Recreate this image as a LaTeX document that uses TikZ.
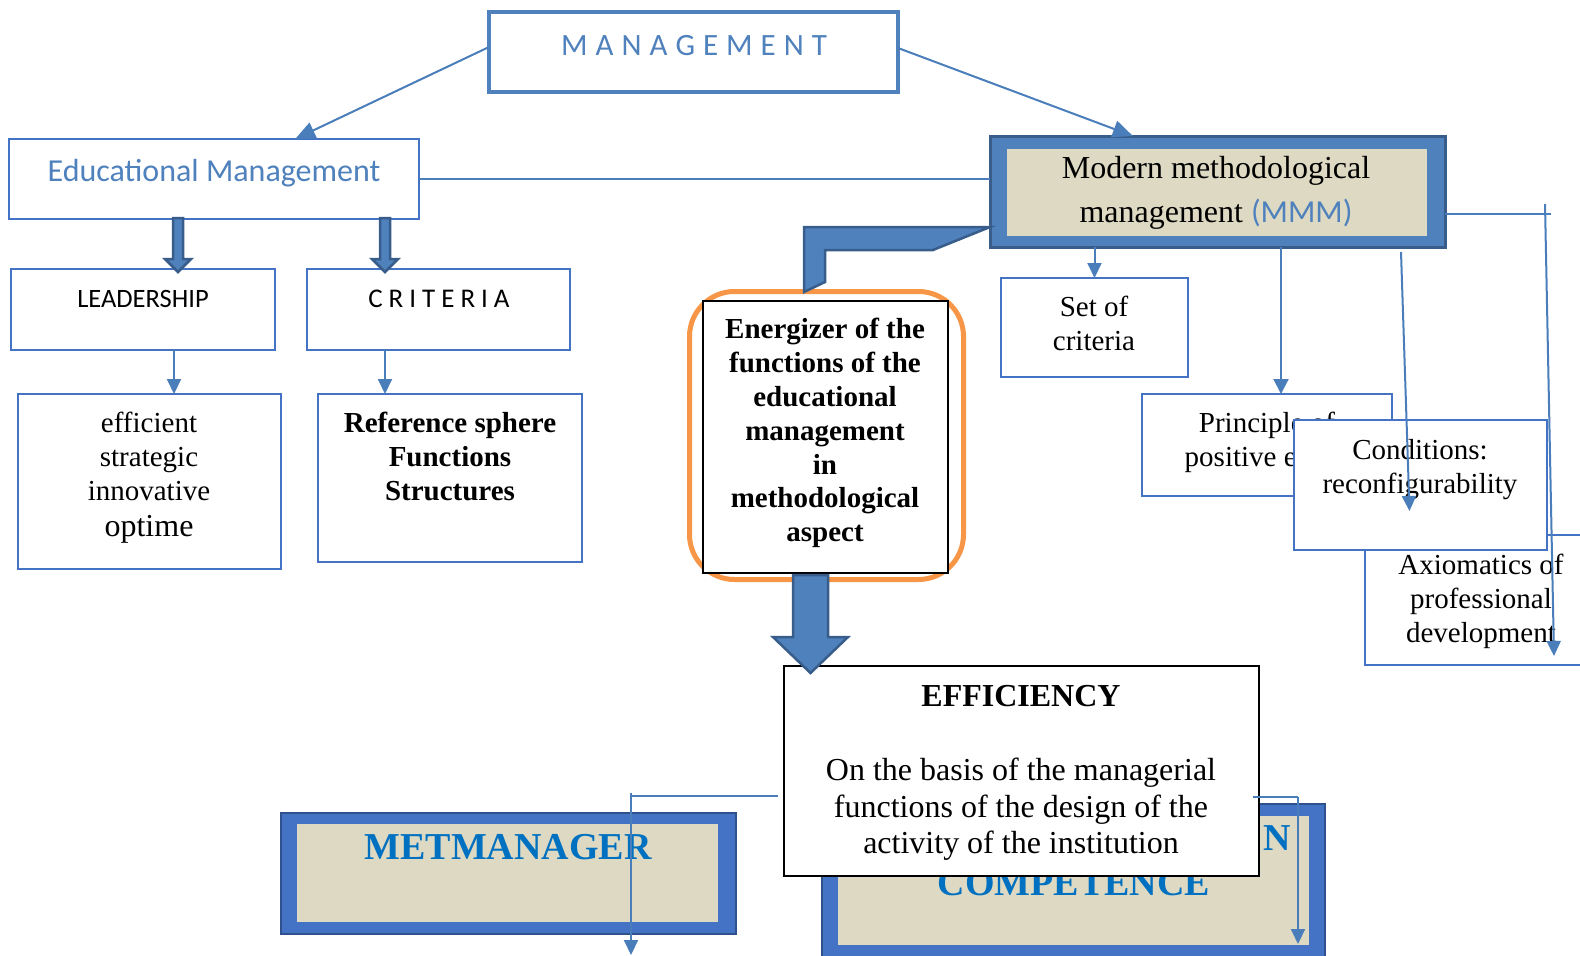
\documentclass[tikz,border=0pt]{standalone}
\usepackage{fontspec}
\setmainfont{Liberation Serif}
\newfontfamily\calib{Carlito}
\usetikzlibrary{arrows.meta,calc}
\definecolor{bx}{HTML}{4472C4}
\definecolor{ln}{HTML}{4A7EBB}
\definecolor{acc}{HTML}{4F81BD}
\definecolor{dk}{HTML}{385D8A}
\definecolor{dkb}{HTML}{2F528F}
\definecolor{beige}{HTML}{DDD9C3}
\definecolor{org}{HTML}{F79646}
\definecolor{tb}{HTML}{0070C0}
% block arrow pointing down: #1 start, #2 tip, #3 shaft half width, #4 head half width, #5 head length
\newcommand\blkdown[5]{\filldraw[blk] ($(#1)+(-#3,0)$) -- ($(#1)+(#3,0)$) -- ($(#2)+(#3,-#5)$) -- ($(#2)+(#4,-#5)$) -- (#2) -- ($(#2)+(-#4,-#5)$) -- ($(#2)+(-#3,-#5)$) -- cycle;}
\begin{document}
\begin{tikzpicture}[x=1pt,y=-1pt,
  box/.style={draw=bx,line width=2.5pt,fill=white,inner sep=0pt,outer sep=0pt},
  conn/.style={draw=ln,line width=2pt},
  arr/.style={conn,-{Triangle[width=14pt,length=15pt]}},
  bigarr/.style={conn,-{Triangle[width=17pt,length=20pt]}},
  blk/.style={fill=acc,draw=dk,line width=2.5pt,line join=miter},
  txt/.style={inner sep=0pt,align=center,font=\fontsize{29}{34}\selectfont},
  plate/.style={inner sep=0pt,outer sep=0pt}]
\useasboundingbox (0,0) rectangle (1580,956);
\clip (0,0) rectangle (1580,956);

% ---------- boxes ----------
\node[box,draw=acc,line width=4pt,minimum width=409pt,minimum height=80pt] (mgmt) at (693.5,52) {};
\node[txt,text=acc,font=\calib\fontsize{31}{37}\selectfont] (mgmtt) at (694,46)
  {M\kern8pt A\kern8pt N\kern8pt A\kern8pt G\kern8pt E\kern8pt M\kern8pt E\kern8pt N\kern8pt T};

\node[box,minimum width=410pt,minimum height=80pt] (edu) at (214,179) {};
\node[txt,text=acc,font=\calib\fontsize{32}{38}\selectfont] (edut) at (214,173) {Educational Management};

\node[plate,draw=dk,fill=acc,line width=3pt,minimum width=455pt,minimum height=111pt] (mmm) at (1217.5,191.5) {};
\node[plate,fill=beige,minimum width=420pt,minimum height=87pt] (mmmin) at (1217,192.5) {};
\node[txt,font=\fontsize{32}{44}\selectfont] (mmmt) at (1216,193)
  {Modern methodological\\management {\calib\color{acc}(MMM)}};

\node[box,minimum width=264pt,minimum height=81pt] (lead) at (143,309.5) {};
\node[txt,font=\calib\fontsize{26.5}{32}\selectfont] (leadt) at (143,299) {LEADERSHIP};

\node[box,minimum width=263pt,minimum height=81pt] (crit) at (438.5,309.5) {};
\node[txt,font=\calib\fontsize{27}{32}\selectfont] (critt) at (439,299)
  {C\kern6pt R\kern6pt I\kern6pt T\kern6pt E\kern6pt R\kern6pt I\kern6pt A};

\node[box,minimum width=263pt,minimum height=175pt] (eff) at (149.5,481.5) {};
\node[txt] (efft) at (149,478) {efficient\\strategic\\innovative\\[2pt]{\fontsize{32}{34}\selectfont optime}};

\node[box,minimum width=264pt,minimum height=168pt] (ref) at (450,478) {};
\node[txt,font=\bfseries\fontsize{29}{34}\selectfont] (reft) at (450,456.5) {Reference sphere\\Functions\\Structures};

\node[plate,draw=org,line width=5pt,rounded corners=45pt,minimum width=274pt,minimum height=288pt] (energ) at (826.5,435.5) {};
\node[plate,draw=black,line width=1.5pt,fill=white,minimum width=245pt,minimum height=272pt] (energin) at (825.5,437) {};
\node[txt,font=\bfseries\fontsize{29}{33.9}\selectfont] (energt) at (825,433)
  {Energizer of the\\functions of the\\educational\\management\\in\\methodological\\aspect};

\node[box,minimum width=187pt,minimum height=99pt] (setc) at (1094.5,327.5) {};
\node[txt] (setct) at (1094,323.5) {Set of\\criteria};

\node[box,minimum width=250pt,minimum height=102pt] (princ) at (1267,445) {};
\node[txt] (princt) at (1267,442) {Principle of\\positive effect};

\node[box,minimum width=255pt,minimum height=130pt] (axio) at (1492.5,600) {};
\node[txt] (axiot) at (1481,601.5) {Axiomatics of\\professional\\development};

\node[box,minimum width=253pt,minimum height=130pt] (cond) at (1420.5,485) {};
\node[txt] (condt) at (1420,469.5) {Conditions:\\reconfigurability};

% bottom plates
\node[plate,draw=dkb,fill=bx,line width=2.5pt,minimum width=455pt,minimum height=121pt] (metm) at (508.5,873.5) {};
\node[plate,fill=beige,minimum width=421pt,minimum height=98pt] (metmin) at (507.5,873) {};
\node[txt,text=tb,font=\bfseries\fontsize{38}{45}\selectfont] (metmt) at (508,847) {METMANAGER};

\node[plate,draw=dkb,fill=bx,line width=2.5pt,minimum width=503pt,minimum height=154pt] (comp) at (1073.5,881) {};
\node[plate,fill=beige,minimum width=471pt,minimum height=129pt] (compin) at (1073.5,880.5) {};
\node[txt,text=tb,font=\bfseries\fontsize{38}{45}\selectfont,anchor=east] (compt1) at (1291,838) {N};
\node[txt,text=tb,font=\bfseries\fontsize{38}{45}\selectfont] (compt2) at (1074,883) {COMPETENCE};

\node[plate,draw=black,line width=1.5pt,fill=white,minimum width=475pt,minimum height=210pt] (efficiency) at (1021.5,771) {};
\node[txt,font=\bfseries\fontsize{32}{38}\selectfont] (efft1) at (1021,696) {EFFICIENCY};
\node[txt,font=\fontsize{32}{36.5}\selectfont] (efft2) at (1021,809.5)
  {On the basis of the managerial\\functions of the design of the\\activity of the institution};

% ---------- connectors ----------
\draw[bigarr] ($(mgmt.west)+(0,-5)$) -- ($(edu.north west)!0.698!(edu.north east)$);
\draw[bigarr] ($(mgmt.east)+(0,-4)$) -- ($(mmm.north west)!0.314!(mmm.north east)$);
\draw[conn] (edu.east) -- (edu.east -| mmm.west);

\coordinate (ea1) at ($(edu.south west)+(169,-1)$);
\coordinate (eb1) at ($(lead.north west)+(167,3)$);
\blkdown{ea1}{eb1}{5}{13}{13}
\coordinate (ea2) at ($(edu.south west)+(376,-1)$);
\coordinate (eb2) at ($(crit.north west)+(78,3)$);
\blkdown{ea2}{eb2}{5}{13}{13}

\draw[arr] ($(lead.south west)+(163,0)$) -- ($(eff.north west)+(156,0)$);
\draw[arr] ($(crit.south west)+(78,0)$) -- ($(ref.north west)+(67,0)$);

% bent block arrow MMM -> energizer
\filldraw[blk] ($(energ.north)+(-22.5,0.5)$) -- ($(mmm.west)+(-186,35.5)$) -- ($(mmm.west)+(0,35.5)$)
  -- ($(mmm.west)+(-57,58.5)$) -- ($(mmm.west)+(-165,58.5)$) -- ($(energ.north)+(-1.5,-9.5)$) -- cycle;

% energizer -> efficiency
\coordinate (da) at ($(energ.south)+(-16,-4.5)$);
\coordinate (db) at ($(efficiency.north west)+(26.5,7)$);
\blkdown{da}{db}{17.5}{37.5}{36}

% MMM to the right-hand boxes
\draw[arr] (mmm.south -| setc.north) -- (setc.north);
\coordinate (p1) at ($(princ.north)+(14,0)$);
\draw[arr,-{Triangle[width=15pt,length=15pt]}] (mmm.south -| p1) -- (p1);
\draw[arr] ($(mmm.south west)+(411,5)$) -- ($(cond.center)+(-11,26)$);
\draw[conn] ($(mmm.east)+(0,22.5)$) -- ++(106,0);
\draw[arr] ($(mmm.east)+(100,12.5)$) -- ($(axio.south west)+(189,-9)$);

% lines round the efficiency box
\coordinate (lb) at ($(efficiency.west)+(-153,25)$);
\draw[conn] ($(efficiency.west)+(-6,25)$) -- (lb);
\draw[arr] ($(lb)+(0,-3)$) -- ($(metm.south west)+(350,21)$);
\coordinate (rb) at ($(efficiency.east)+(39,26)$);
\draw[conn] ($(efficiency.east)+(-6,26)$) -- (rb);
\draw[arr] (rb) -- ($(comp.south east)+(-27,-14)$);
\end{tikzpicture}
\end{document}
